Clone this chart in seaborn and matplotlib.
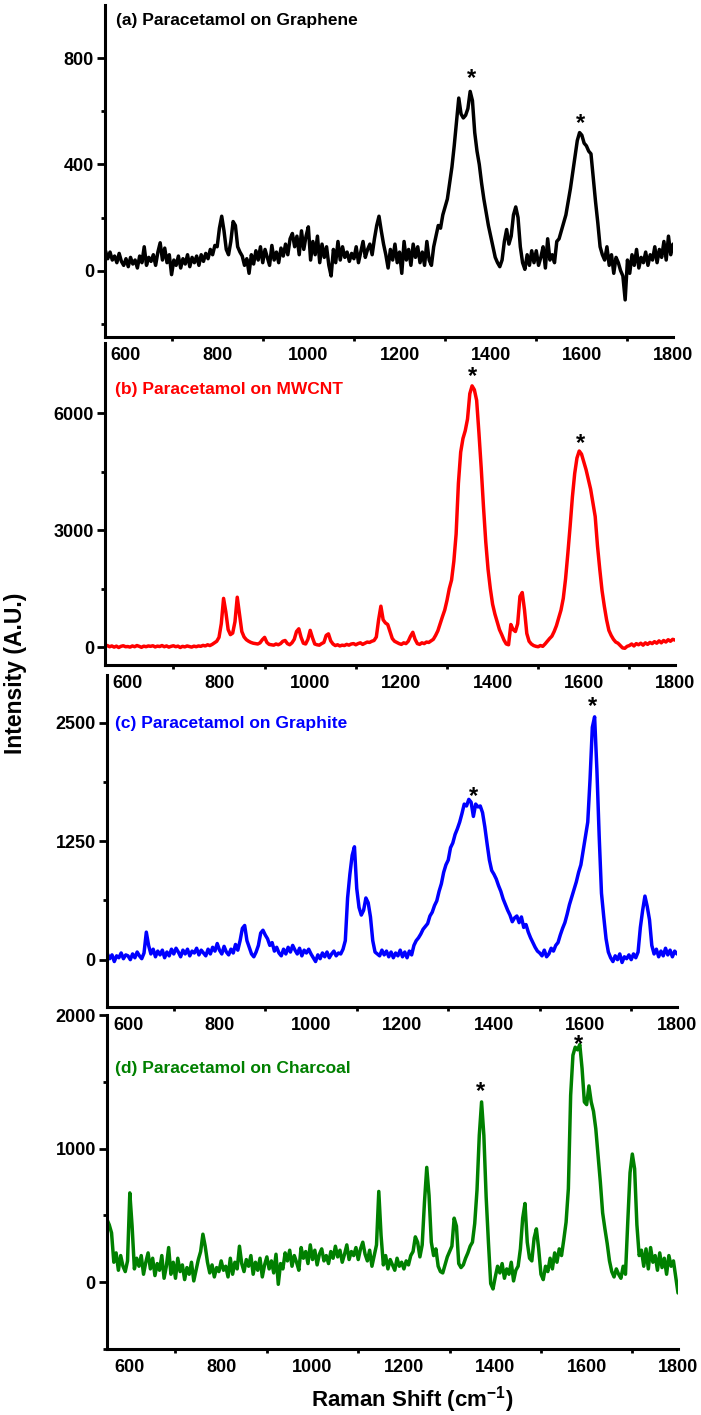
import numpy as np
import pandas as pd
import seaborn as sns
import matplotlib.pyplot as plt
from matplotlib.ticker import FixedLocator

# Raman shift grid (cm-1) shared by all four spectra
shift = np.arange(550, 1801, 5)

graphene = [
    60, 75, 45, 70, 40, 55, 30, 65, 35, 20,
    45, 15, 50, 25, 40, 10, 55, 30, 90, 20,
    50, 35, 60, 20, 70, 105, 40, 85, 30, 60,
    -15, 40, 20, 55, 10, 45, 25, 60, 15, 50,
    30, 55, 20, 60, 35, 65, 45, 80, 60, 95,
    90, 160, 205, 150, 80, 60, 110, 185, 170, 90,
    70, 55, 20, 45, -10, 60, 25, 75, 40, 90,
    30, 80, 50, 20, 95, 40, 70, 30, 85, 55,
    100, 60, 120, 140, 90, 130, 60, 150, 80, 130,
    165, 40, 110, 60, 130, 30, 100, 50, 90, 20,
    -20, 80, 30, 110, 40, 90, 50, 70, 35, 65,
    45, 90, 30, 70, 110, 50, 80, 100, 60, 120,
    170, 205, 150, 100, 60, 10, 80, 40, 100, 30,
    70, -10, 110, 40, 80, 20, 100, 50, 90, 30,
    70, 20, 110, 40, 20, 90, 130, 170, 160, 210,
    240, 270, 330, 390, 470, 560, 650, 590, 575, 585,
    610, 675, 640, 520, 450, 400, 330, 270, 220, 170,
    130, 90, 50, 30, 15, 40, 110, 155, 100, 130,
    210, 240, 200, 90, 30, 5, 60, 20, 75, 30,
    75, 20, 50, 90, 10, 120, 40, 60, 30, 110,
    120, 150, 180, 210, 260, 310, 370, 430, 490, 520,
    510, 480, 470, 450, 440, 350, 260, 180, 90, 60,
    40, 90, 20, 60, -10, 50, 30, 0, -20, -110,
    40, -10, 60, 20, 80, 10, 50, 30, 70, 20,
    60, 40, 90, 30, 80, 50, 110, 40, 130, 60,
    100,
]

mwcnt = [
    20, 40, 10, 30, 0, 25, -10, 20, 35, 10,
    15, 0, 30, 10, 40, 20, -5, 25, 10, 30,
    20, 35, 5, 25, 15, 40, 10, 30, 0, 20,
    35, 10, 25, -10, 20, 5, 30, 15, 0, 25,
    10, 30, 20, 45, 30, 60, 40, 70, 110, 150,
    250, 600, 1250, 900, 450, 320, 360, 650, 1280, 850,
    400, 260, 190, 150, 120, 100, 90, 80, 110, 190,
    250, 120, 70, 60, 50, 80, 60, 90, 150, 170,
    90, 60, 110, 200, 400, 470, 250, 100, 80, 200,
    430, 240, 80, 60, 50, 90, 120, 300, 340, 160,
    80, 40, 60, 30, 50, 40, 70, 50, 80, 90,
    60, 90, 110, 70, 100, 130, 120, 150, 170, 260,
    700, 1050, 700, 620, 580, 400, 220, 150, 120, 90,
    70, 110, 90, 150, 280, 380, 200, 90, 70, 110,
    90, 130, 120, 160, 200, 300, 420, 600, 780, 950,
    1200, 1500, 1720, 2200, 2900, 4200, 5000, 5350, 5550, 5850,
    6500, 6700, 6600, 6330, 5500, 4600, 3600, 2700, 2000, 1500,
    1100, 850, 650, 450, 320, 180, 80, 60, 580, 450,
    400, 600, 1300, 1400, 950, 350, 150, 80, 40, 20,
    10, 40, 20, 80, 150, 220, 280, 400, 550, 750,
    950, 1250, 1750, 2400, 3100, 3850, 4450, 4850, 5030, 4950,
    4750, 4550, 4300, 4050, 3700, 3350, 2600, 2000, 1450, 1050,
    700, 430, 300, 200, 130, 100, 40, -20, -30, 20,
    40, 80, 30, 90, 60, 100, 50, 110, 70, 120,
    90, 140, 100, 160, 110, 170, 130, 190, 150, 200,
    180,
]

graphite = [
    30, 60, 10, 50, -20, 40, 20, 70, 10, 50,
    40, 0, 60, 20, 80, 40, 10, 70, 290, 150,
    60, 110, 30, 90, 50, 100, 20, 80, 40, 110,
    60, 120, 80, 30, 100, 60, 110, 40, 90, 70,
    120, 50, 100, 70, 40, 110, 60, 130, 90, 170,
    100, 60, 140, 80, 50, 110, 70, 160, 100, 200,
    330, 360, 200, 130, 60, 30, 80, 150, 280, 310,
    260, 220, 150, 180, 90, 130, 70, 40, 110, 60,
    130, 80, 150, 100, 60, 120, 40, 100, 70, 110,
    60, 20, -20, 50, 10, 70, 30, 80, 20, 60,
    90, 40, 70, 60, 110, 200, 650, 900, 1100, 1190,
    750, 550, 470, 520, 650, 600, 450, 200, 80, 60,
    40, 100, 50, 90, 30, 80, 20, 70, 40, 100,
    30, 80, 20, 90, 50, 150, 200, 230, 270, 320,
    350, 380, 460, 500, 570, 620, 720, 800, 920, 1000,
    1050, 1180, 1230, 1320, 1380, 1450, 1540, 1640, 1620, 1690,
    1660, 1510, 1640, 1610, 1620, 1550, 1400, 1220, 1050, 940,
    900, 850, 780, 720, 640, 580, 520, 470, 400, 440,
    460, 390, 450, 340, 370, 290, 230, 180, 130, 90,
    70, 40, 100, 30, 60, 120, 90, 150, 180, 260,
    330, 390, 480, 580, 660, 740, 820, 920, 1000, 1150,
    1300, 1450, 1900, 2450, 2560, 2000, 1300, 700, 450, 220,
    80, 20, -20, 40, 0, 60, -30, 30, 10, 50,
    0, 60, 20, 80, 340, 520, 670, 560, 420, 150,
    60, 110, 30, 90, 40, 120, 50, 100, 30, 90,
    60,
]

charcoal = [
    470, 430, 370, 150, 220, 90, 200, 120, 80, 160,
    669, 420, 100, 180, 120, 200, 60, 150, 220, 100,
    180, 50, 140, 90, 200, 30, 120, 260, 60, 150,
    30, 180, 80, 130, 20, 110, 60, 150, 10, 90,
    170, 230, 360, 270, 150, 70, 130, 40, 110, 80,
    160, 90, 120, 40, 180, 60, 150, 100, 270, 140,
    80, 170, 120, 200, 60, 150, 90, 180, 40, 130,
    190, 100, 160, 70, 210, -15, 140, 100, 220, 160,
    240, 120, 200, 150, 90, 260, 180, 230, 140, 280,
    170, 240, 130, 210, 250, 160, 200, 140, 230, 180,
    270, 190, 240, 150, 210, 280, 170, 230, 200, 260,
    170, 250, 300, 210, 160, 240, 120, 200, 280, 680,
    350, 130, 200, 100, 170, 130, 90, 180, 120, 150,
    100, 160, 130, 200, 230, 340, 300, 190, 280, 600,
    860, 650, 300, 200, 250, 120, 80, 70, 130, 190,
    230, 270, 480, 420, 140, 110, 130, 180, 220, 270,
    300, 440, 690, 1100, 1350, 1100, 640, 300, -10, -50,
    40, 120, 70, 140, 30, 100, 60, 150, 10, 90,
    120, 250, 480, 590, 300, 180, 160, 330, 400, 250,
    60, 20, 120, 80, 180, 100, 220, 150, 250, 200,
    320, 450, 700, 1400, 1700, 1760, 1740, 1780, 1600, 1350,
    1330, 1470, 1350, 1280, 1150, 950, 750, 520, 400, 290,
    160, 80, 40, 100, 60, 30, 120, 60, 450, 820,
    960, 850, 430, 200, 240, 120, 250, 100, 260, 150,
    200, 90, 220, 110, 180, 60, 200, 120, 160, 40,
    -80,
]

titles = ['(a) Paracetamol on Graphene', '(b) Paracetamol on MWCNT',
          '(c) Paracetamol on Graphite', '(d) Paracetamol on Charcoal']
colors = ['black', '#FF0000', '#0000FF', '#008000']
spectra = [graphene, mwcnt, graphite, charcoal]

# starred peaks (position, label height) per panel
star_x = [[1357, 1598], [1357, 1593], [1355, 1616], [1367, 1582]]
star_y = [[742, 573], [7060, 5350], [1776, 2725], [1465, 1814]]

y_major = [[0, 400, 800], [0, 3000, 6000], [0, 1250, 2500], [0, 1000, 2000]]
y_minor = [[-200, 200, 600], [1500, 4500], [625, 1875], [-500, 500, 1500]]
y_lims = [(-250, 1000), (-460, 7800), (-500, 3000), (-500, 2000)]
x_lims = [(554, 1800), (550, 1800), (554, 1800), (550, 1800)]

sns.set_theme(style='ticks')
plt.rcParams['font.family'] = ['Liberation Sans', 'DejaVu Sans']
plt.rcParams['font.weight'] = 'bold'
plt.rcParams['text.color'] = 'black'
plt.rcParams['mathtext.fontset'] = 'custom'
plt.rcParams['mathtext.rm'] = 'Liberation Sans:bold'
plt.rcParams['mathtext.default'] = 'rm'

fig = plt.figure(figsize=(7.01, 14.15), dpi=100)

# panel boxes in figure fractions [left, bottom, width, height]
boxes = [
    [0.1498, 0.7618, 0.8103, 0.2346],
    [0.1498, 0.5300, 0.8131, 0.2276],
    [0.1526, 0.2883, 0.8131, 0.2346],
    [0.1526, 0.0466, 0.8146, 0.2360],
]
title_pos = [(0.019, 0.955), (0.018, 0.857), (0.014, 0.855), (0.014, 0.841)]

for i in range(4):
    ax = fig.add_axes(boxes[i])
    ax.set_facecolor('none')
    df = pd.DataFrame({'shift': shift, 'intensity': spectra[i]})
    sns.lineplot(data=df, x='shift', y='intensity', ax=ax, color=colors[i],
                 linewidth=2.5, estimator=None)
    ax.set_xlim(*x_lims[i])
    ax.set_ylim(*y_lims[i])
    ax.set_xlabel('')
    ax.set_ylabel('')
    sns.despine(ax=ax)
    for s in ['left', 'bottom']:
        ax.spines[s].set_linewidth(2.2)
        ax.spines[s].set_color('black')

    ax.xaxis.set_major_locator(FixedLocator([600, 800, 1000, 1200, 1400, 1600, 1800]))
    ax.xaxis.set_minor_locator(FixedLocator([700, 900, 1100, 1300, 1500, 1700]))
    ax.yaxis.set_major_locator(FixedLocator(y_major[i]))
    ax.yaxis.set_minor_locator(FixedLocator(y_minor[i]))
    ax.tick_params(axis='x', which='major', length=0, pad=7, labelsize=13, colors='black')
    ax.tick_params(axis='x', which='minor', length=3, width=2, color='black')
    ax.tick_params(axis='y', which='major', length=5.5, width=2, pad=2.5, labelsize=13,
                   colors='black')
    ax.tick_params(axis='y', which='minor', length=3, width=2, color='black')

    ax.text(title_pos[i][0], title_pos[i][1], titles[i], transform=ax.transAxes,
            color=colors[i], fontsize=12.5, fontweight='bold', ha='left', va='center')
    for sx, sy in zip(star_x[i], star_y[i]):
        ax.annotate('*', xy=(sx, sy), xytext=(0, -3.5), textcoords='offset points',
                    ha='center', va='center', fontsize=17, fontweight='bold',
                    color='black')

fig.text(16 / 701, 1 - 673 / 1415, 'Intensity (A.U.)', rotation=90, ha='center',
         va='center', fontsize=16.5, fontweight='bold', color='black')
fig.text(412 / 701, 1 - 1400 / 1415, 'Raman Shift (cm$^{-1}$)', ha='center',
         va='center', fontsize=16, fontweight='bold', color='black')

fig.savefig('out.png', dpi=100)
